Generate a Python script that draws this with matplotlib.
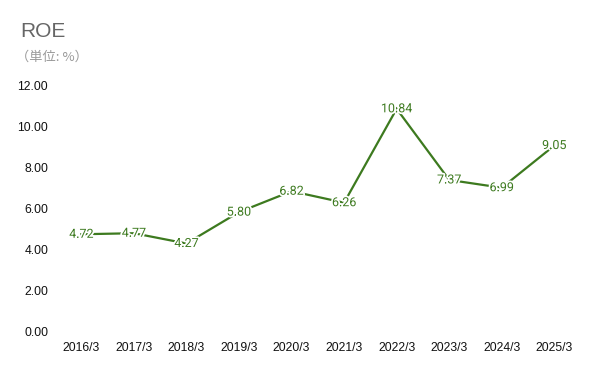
import matplotlib
matplotlib.use("Agg")
import matplotlib.pyplot as plt
import matplotlib.patheffects as pe

years = ["2016/3", "2017/3", "2018/3", "2019/3", "2020/3",
         "2021/3", "2022/3", "2023/3", "2024/3", "2025/3"]
roe = [4.72, 4.77, 4.27, 5.80, 6.82, 6.26, 10.84, 7.37, 6.99, 9.05]
yticks = [0, 2, 4, 6, 8, 10, 12]

fig = plt.figure(figsize=(6, 3.71), dpi=100)
ax = fig.add_axes([0.0917, 0.1078, 0.876, 0.663])

x = list(range(len(years)))
ax.plot(x, roe, color="#3d7a1f", linewidth=1.6, solid_joinstyle="miter")

for xi, v in zip(x, roe):
    ax.text(xi, v, f"{v:.2f}", ha="center", va="center", fontsize=9,
            color="#3d7a1f", family="Roboto",
            path_effects=[pe.withStroke(linewidth=2.5, foreground="white")])

ax.set_xlim(-0.5, len(years) - 0.5)
ax.set_ylim(0, 12)
ax.set_xticks(x)
ax.set_xticklabels(years)
ax.set_yticks(yticks)
ax.set_yticklabels([f"{t:.2f}" for t in yticks])
for s in ax.spines.values():
    s.set_visible(False)
ax.tick_params(length=0, labelsize=8.7, labelcolor="#111111")
ax.tick_params(axis="y", pad=5)
ax.tick_params(axis="x", pad=8)
for lbl in ax.get_xticklabels() + ax.get_yticklabels():
    lbl.set_family("Liberation Sans")

fig.text(0.033, 0.915, "ROE", fontsize=15, color="#666666",
         family="Liberation Sans", va="center")
fig.text(0.026, 0.845, "（単位: %）", fontsize=9.5, color="#999999",
         family=["Noto Sans CJK JP", "DejaVu Sans"], va="center")

plt.savefig("out.png", dpi=100)
